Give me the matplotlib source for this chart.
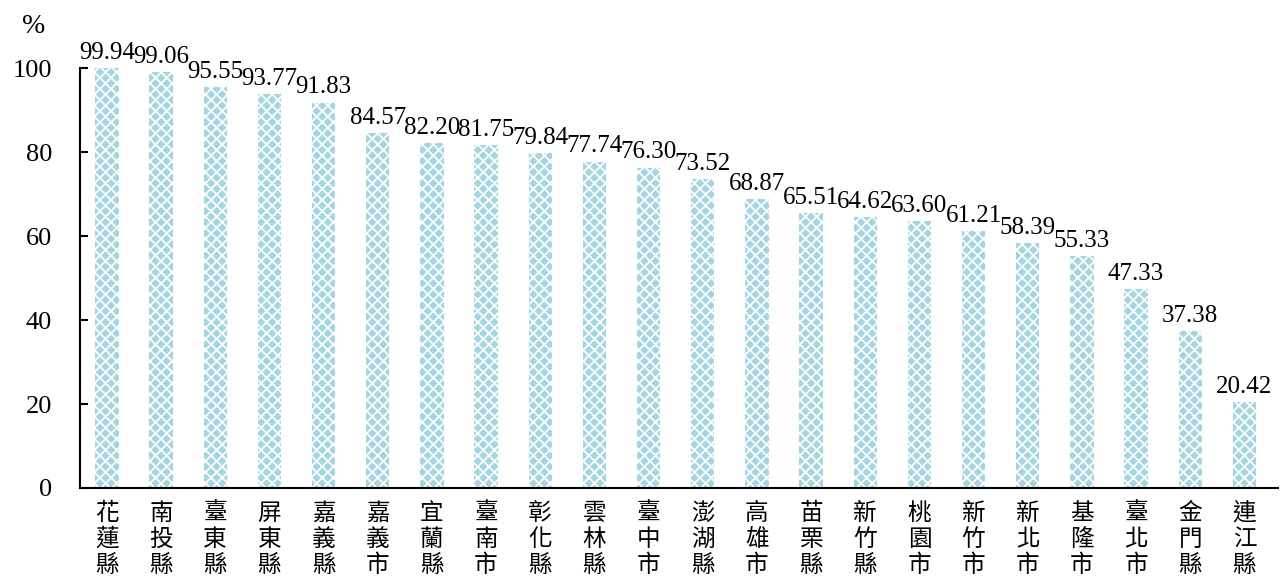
import matplotlib.pyplot as plt
import numpy as np

plt.rcParams['font.family'] = ['Liberation Serif', 'Noto Sans CJK TC', 'DejaVu Sans']
plt.rcParams['hatch.linewidth'] = 1.3

counties = ["花蓮縣", "南投縣", "臺東縣", "屏東縣", "嘉義縣", "嘉義市", "宜蘭縣",
            "臺南市", "彰化縣", "雲林縣", "臺中市", "澎湖縣", "高雄市", "苗栗縣",
            "新竹縣", "桃園市", "新竹市", "新北市", "基隆市", "臺北市", "金門縣",
            "連江縣"]
values = [99.94, 99.06, 95.55, 93.77, 91.83, 84.57, 82.20, 81.75, 79.84, 77.74,
          76.30, 73.52, 68.87, 65.51, 64.62, 63.60, 61.21, 58.39, 55.33, 47.33,
          37.38, 20.42]
yticks = [0, 20, 40, 60, 80, 100]

fig = plt.figure(figsize=(12.87, 5.83), dpi=100)
ax = fig.add_axes([0.062, 0.163, 0.931, 0.72])

x = np.arange(len(counties))
ax.bar(x, values, width=0.43, color="#a3d6e3", edgecolor="white",
       hatch="xxx", linewidth=0)

for xi, v in zip(x, values):
    ax.text(xi, v + 1.0, f"{v:.2f}", ha="center", va="bottom",
            fontsize=18, clip_on=False)

ax.set_xlim(-0.5, 21.62)
ax.set_ylim(0, 100)
ax.set_yticks(yticks)
ax.set_yticklabels([str(t) for t in yticks], fontsize=19)
ax.tick_params(axis="y", direction="in", length=6, width=1.5, pad=20)
ax.set_xticks(x)
ax.set_xticklabels(["\n".join(c) for c in counties],
                   family=["Noto Sans CJK TC"], fontsize=17, linespacing=1.18)
ax.tick_params(axis="x", length=0, pad=10)

for s in ["top", "right"]:
    ax.spines[s].set_visible(False)
ax.spines["left"].set_linewidth(1.5)
ax.spines["bottom"].set_linewidth(1.5)

fig.text(0.026, 0.955, "%", fontsize=20, ha="center", va="center")

fig.savefig("out.png", dpi=100)
